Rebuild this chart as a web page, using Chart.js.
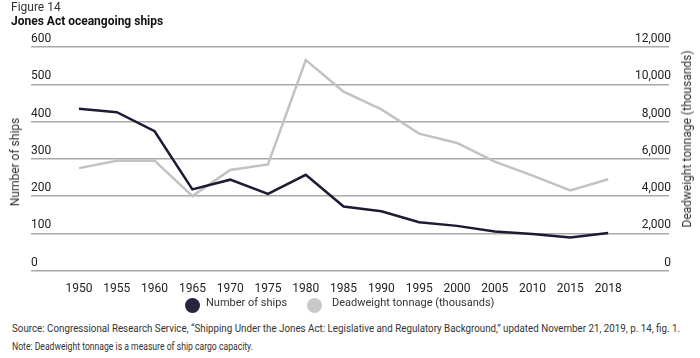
<!DOCTYPE html>
<html>
<head>
<meta charset="utf-8">
<script src="https://cdn.jsdelivr.net/npm/chart.js@4"></script>
<style>
  body { margin: 0; background: #fff; font-family: Roboto, sans-serif; color: #222; }
  #wrap { position: relative; width: 700px; height: 358px; overflow: hidden; }
  #chart { position: absolute; left: 0; top: 0; }
  .txt { position: absolute; white-space: nowrap; }
  .rot { position: absolute; white-space: nowrap; transform: translate(-50%, -50%) rotate(-90deg); font-size: 12px; color: #333; }
  .dot { position: absolute; width: 15px; height: 15px; border-radius: 50%; }
</style>
</head>
<body>
<div id="wrap">
  <canvas id="chart" width="700" height="299"></canvas>
  <div class="txt" style="left:11px; top:0px; font-size:12px; color:#333;">Figure 14</div>
  <div class="txt" style="left:11px; top:14px; font-size:12px; font-weight:bold; color:#111;">Jones Act oceangoing ships</div>
  <div class="rot" style="left:15px; top:162px;">Number of ships</div>
  <div class="rot" style="left:687px; top:139px;">Deadweight tonnage (thousands)</div>
  <div class="dot" style="left:185px; top:298px; background:#26243f;"></div>
  <div class="txt" style="left:206px; top:296px; font-size:11px; color:#333;">Number of ships</div>
  <div class="dot" style="left:307px; top:298px; background:#c8c8c8;"></div>
  <div class="txt" style="left:332px; top:296px; font-size:11px; color:#333;">Deadweight tonnage (thousands)</div>
  <div class="txt fit" data-w="668" style="left:12px; top:323px; font-size:10px; color:#333; transform-origin:left top;">Source: Congressional Research Service, “Shipping Under the Jones Act: Legislative and Regulatory Background,” updated November 21, 2019, p. 14, fig. 1.</div>
  <div class="txt fit" data-w="241" style="left:12px; top:341px; font-size:10px; color:#333; transform-origin:left top;">Note: Deadweight tonnage is a measure of ship cargo capacity.</div>
</div>
<script>
const years = ['1950', '1955', '1960', '1965', '1970', '1975', '1980', '1985', '1990', '1995', '2000', '2005', '2010', '2015', '2018'];
const ships = [434, 425, 374, 218, 244, 206, 257, 172, 159, 130, 120, 105, 98, 89, 101];
const tonnage = [5500, 5900, 5900, 4000, 5400, 5700, 11300, 9600, 8650, 7350, 6850, 5850, 5100, 4300, 4900];
const shipTicks = [0, 100, 200, 300, 400, 500, 600];
const tonTicks = [0, 2000, 4000, 6000, 8000, 10000, 12000];

// squeeze the long footnote lines to their width in the picture
document.querySelectorAll('.fit').forEach(el => {
  const w = el.getBoundingClientRect().width;
  el.style.transform = 'scaleX(' + (parseFloat(el.dataset.w) / w) + ')';
});

const tickFont = { family: 'Roboto', size: 12 };

new Chart(document.getElementById('chart'), {
  type: 'line',
  data: {
    datasets: [{
      label: 'Number of ships',
      data: ships.map((v, i) => ({ x: i, y: v })),
      yAxisID: 'y',
      borderColor: '#1c1b33',
      borderWidth: 2.5,
      pointRadius: 0,
      tension: 0
    }, {
      label: 'Deadweight tonnage (thousands)',
      data: tonnage.map((v, i) => ({ x: i, y: v })),
      yAxisID: 'y2',
      borderColor: '#c2c2c2',
      borderWidth: 2.5,
      pointRadius: 0,
      tension: 0
    }]
  },
  options: {
    responsive: false,
    animation: false,
    layout: { padding: { left: 31, right: 27, top: 47, bottom: 0 } },
    plugins: { legend: { display: false }, tooltip: { enabled: false } },
    scales: {
      x: {
        type: 'linear',
        min: -1.27,
        max: 15.61,
        grid: { display: false },
        border: { display: false },
        afterBuildTicks: axis => { axis.ticks = years.map((y, i) => ({ value: i })); },
        ticks: {
          autoSkip: false,
          maxRotation: 0,
          padding: 3,
          color: '#222',
          font: tickFont,
          callback: v => years[v]
        }
      },
      y: {
        position: 'left',
        min: 0,
        max: 600,
        afterBuildTicks: axis => { axis.ticks = shipTicks.map(v => ({ value: v })); },
        grid: { color: '#a9a9a9', lineWidth: 1.5, drawTicks: false },
        border: { display: false },
        ticks: { mirror: true, padding: 0, labelOffset: -8, color: '#222', font: tickFont }
      },
      y2: {
        position: 'right',
        min: 0,
        max: 12000,
        afterBuildTicks: axis => { axis.ticks = tonTicks.map(v => ({ value: v })); },
        grid: { display: false, drawTicks: false },
        border: { display: false },
        ticks: {
          mirror: true, padding: 2, labelOffset: -8, color: '#222', font: tickFont,
          callback: v => v.toLocaleString('en-US')
        }
      }
    }
  }
});
</script>
</body>
</html>
